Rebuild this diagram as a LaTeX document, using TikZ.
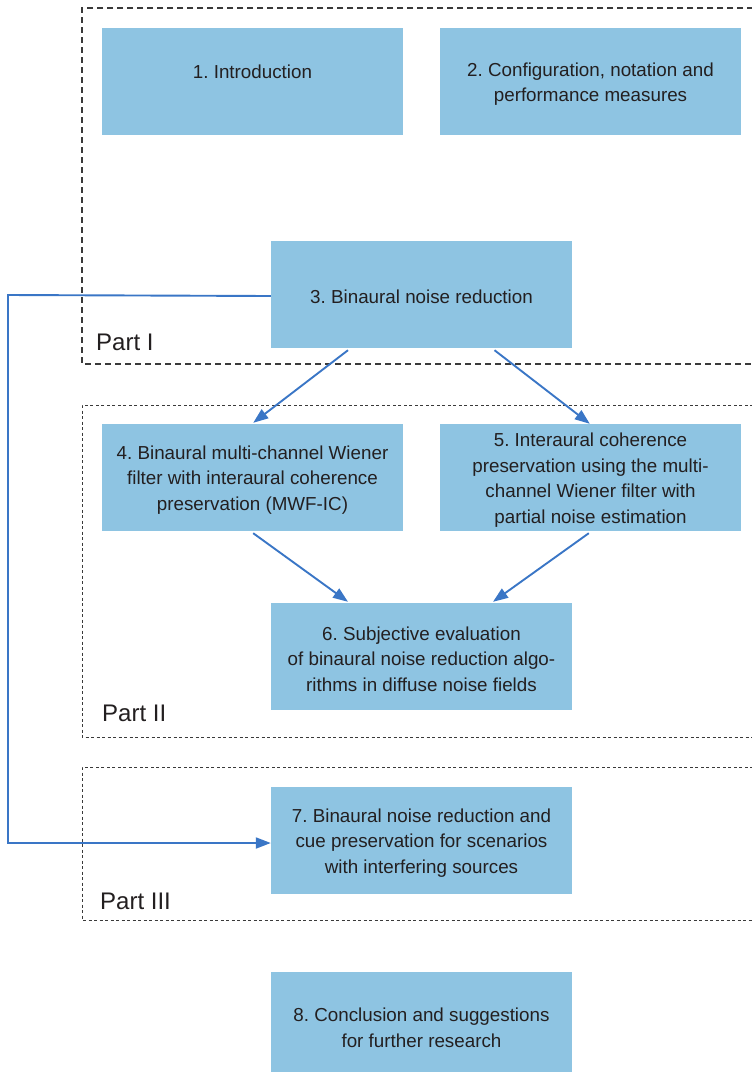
\documentclass[tikz,border=0pt]{standalone}
\usepackage{fontspec}
\setmainfont{Liberation Sans}
\usetikzlibrary{arrows.meta}
\definecolor{boxfill}{HTML}{8EC4E2}
\definecolor{linkblue}{HTML}{3A76C6}
\definecolor{txt}{HTML}{231F20}
\definecolor{framegray}{HTML}{3A3A3A}
\begin{document}
\frenchspacing
\begin{tikzpicture}[x=1pt,y=-1pt,
  chap/.style={fill=boxfill,draw=none,minimum width=301pt,minimum height=107pt,inner sep=0pt},
  chaptxt/.style={inner sep=0pt,align=center,text=txt,yshift=-2.5pt,
    font=\fontsize{18.8}{25.5}\selectfont},
  link/.style={draw=linkblue,line width=1.9pt,-{Triangle[length=15pt,width=11pt]}},
  frameA/.style={draw=framegray,line width=1.3pt,dash pattern=on 6pt off 4pt},
  frameB/.style={draw=framegray,line width=0.9pt,dash pattern=on 3pt off 2.5pt},
  partlabel/.style={anchor=base west,inner sep=0pt,text=txt,font=\fontsize{24}{28}\selectfont}]
\useasboundingbox (0,0) rectangle (752,1072);
\clip (0,0) rectangle (752,1072);
% frames
\draw[frameA] (753,8) -- (82,8) -- (82,364) -- (753,364);
\draw[frameB] (753,405) -- (82,405) -- (82,737) -- (753,737);
\draw[frameB] (753,767) -- (82,767) -- (82,920) -- (753,920);
\node[partlabel] (p1) at (96,350) {Part I};
\node[partlabel] (p2) at (102,721) {Part II};
\node[partlabel] (p3) at (100,909) {Part III};
% chapters
\node[chap,label={[chaptxt]center:{1. Introduction\\\mbox{}}}] (c1) at (252.5,81.5) {};
\node[chap,label={[chaptxt]center:{2. Configuration, notation and\\performance measures}}] (c2) at (590.5,81.5) {};
\node[chap,label={[chaptxt]center:{3. Binaural noise reduction}}] (c3) at (421.5,294.5) {};
\node[chap,label={[chaptxt]center:{4. Binaural multi-channel Wiener\\filter with interaural coherence\\preservation (MWF-IC)}}] (c4) at (252.5,477.5) {};
\node[chap,label={[chaptxt]center:{5. Interaural coherence\\preservation using the multi-\\channel Wiener filter with\\partial noise estimation}}] (c5) at (590.5,477.5) {};
\node[chap,label={[chaptxt]center:{6. Subjective evaluation\\of binaural noise reduction algo-\\rithms in diffuse noise fields}}] (c6) at (421.5,656.5) {};
\node[chap,label={[chaptxt]center:{7. Binaural noise reduction and\\cue preservation for scenarios\\with interfering sources}}] (c7) at (421.5,840.5) {};
\node[chap,label={[chaptxt]center:{8. Conclusion and suggestions\\for further research}}] (c8) at (421.5,1025.5) {};
% connectors
\coordinate (l1) at (8,295);
\coordinate (l2) at (8,843);
\draw[link] ([yshift=-1.5pt]c3.west) -- (l1) -- (l2) -- (c7.west |- l2);
\draw[link] ([xshift=-73.5pt,yshift=-2pt]c3.south) -- ([xshift=-150pt,yshift=1pt]c4.north east);
\draw[link] ([xshift=73pt,yshift=-2pt]c3.south) -- ([xshift=150pt]c5.north west);
\draw[link] ([xshift=-150pt,yshift=-2pt]c4.south east) -- ([xshift=-73.5pt,yshift=1pt]c6.north);
\draw[link] ([xshift=149pt,yshift=-2pt]c5.south west) -- ([xshift=71.5pt,yshift=1pt]c6.north);
\end{tikzpicture}
\end{document}
